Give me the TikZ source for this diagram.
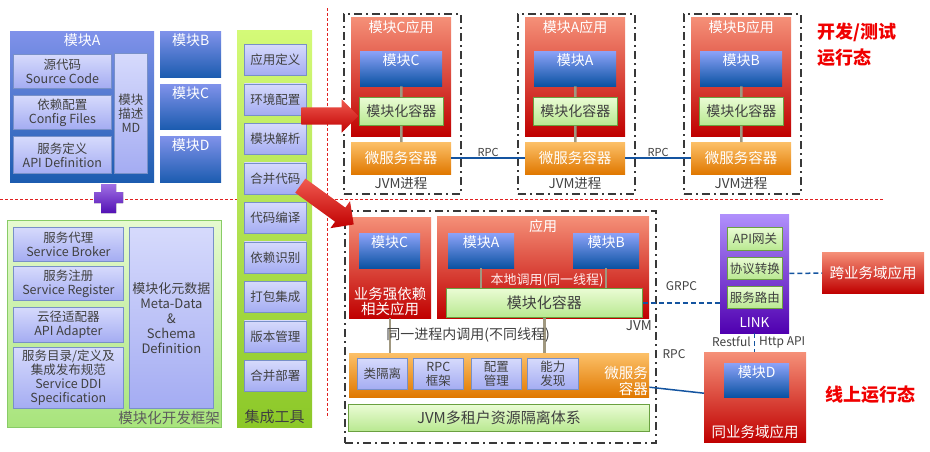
\documentclass[tikz,border=0pt]{standalone}
\usepackage{fontspec}
\setmainfont{Noto Sans CJK SC}
\usetikzlibrary{shapes.arrows,positioning}
\definecolor{modtop}{HTML}{8CA2F8}
\definecolor{modbot}{HTML}{0A52A2}
\definecolor{bigtop}{HTML}{8092EA}
\definecolor{bigbot}{HTML}{1C5CB0}
\definecolor{lavtop}{HTML}{D6DAFC}
\definecolor{lavbot}{HTML}{A4ACF2}
\definecolor{lavline}{HTML}{7890C8}
\definecolor{redtop}{HTML}{F59078}
\definecolor{redbot}{HTML}{C00000}
\definecolor{orgtop}{HTML}{FCC068}
\definecolor{orgbot}{HTML}{E07800}
\definecolor{grntop}{HTML}{EAFCD4}
\definecolor{grnbot}{HTML}{B8E890}
\definecolor{grnline}{HTML}{6AA040}
\definecolor{tooltop}{HTML}{D4FA78}
\definecolor{toolbot}{HTML}{8CC828}
\definecolor{fwtop}{HTML}{E6FAD0}
\definecolor{fwbot}{HTML}{A8E47C}
\definecolor{fwline}{HTML}{88CC66}
\definecolor{purtop}{HTML}{B090FC}
\definecolor{purbot}{HTML}{5000B0}
\definecolor{plustop}{HTML}{A070E4}
\definecolor{plusbot}{HTML}{5210B4}
\definecolor{darktxt}{HTML}{404040}
\definecolor{linkgray}{HTML}{A09880}
\definecolor{netblue}{HTML}{1454A0}
\definecolor{framegray}{HTML}{383838}
\definecolor{headred}{HTML}{F00000}
\definecolor{divred}{HTML}{E02020}
\definecolor{arrtop}{HTML}{F05A50}
\tikzset{
  every node/.style={inner sep=0pt, align=center},
  box/.style={anchor=north west},
  toplabel/.style={label={[anchor=north, yshift=-3pt, text=white, font=\fontsize{14}{16}\selectfont]north:#1}},
  bigmod/.style={box, top color=bigtop, bottom color=bigbot},
  bluebox/.style={box, top color=modtop, bottom color=modbot},
  lav/.style={box, draw=lavline, line width=0.8pt, top color=lavtop, bottom color=lavbot,
    text=darktxt, font=\fontsize{12.5}{14}\selectfont},
  redbox/.style={box, top color=redtop, bottom color=redbot, text=white,
    font=\fontsize{14.5}{16}\selectfont},
  orangebox/.style={box, top color=orgtop, bottom color=orgbot, text=white,
    font=\fontsize{14.5}{16}\selectfont},
  greenbox/.style={box, draw=grnline, line width=0.9pt, top color=grntop, bottom color=grnbot,
    text=darktxt, font=\fontsize{14}{16}\selectfont},
  frame/.style={box, draw=framegray, line width=2pt,
    dash pattern=on 8pt off 4pt on 2pt off 4pt},
  darktext/.style={text=darktxt, font=\fontsize{13.5}{15}\selectfont},
  smalltext/.style={text=darktxt, font=\fontsize{11}{13}\selectfont},
  headtext/.style={anchor=west, text=headred, font=\fontsize{18}{20}\selectfont\bfseries},
  divider/.style={divred, line width=0.8pt, dash pattern=on 3pt off 2pt},
  link/.style={linkgray, line width=2.5pt},
  rpcline/.style={netblue, line width=1.5pt},
  netdash/.style={netblue, line width=1.5pt, dash pattern=on 5pt off 3pt},
  redarrow/.style={single arrow, inner xsep=0pt, inner ysep=8.5pt, single arrow head extend=8pt,
    single arrow tip angle=90, top color=arrtop, bottom color=redbot}
}
\begin{document}
\begin{tikzpicture}[x=1pt,y=-1pt]
\useasboundingbox (0,0) rectangle (930,451);

\draw[divider] (0,199) -- (884,199);
\draw[divider] (327,8) -- (327,418);

% modules
\node (moda) [bigmod, minimum width=144pt, minimum height=151pt, toplabel=模块A] at (10,31) {};
\node (src) [lav, minimum width=98pt, minimum height=34pt] at (13,54) {源代码\\Source Code};
\node (cfg) [lav, minimum width=98pt, minimum height=34pt] at (13,95) {依赖配置\\Config Files};
\node (api) [lav, minimum width=98pt, minimum height=37pt] at (13,136) {服务定义\\API Definition};
\node (md) [lav, minimum width=33pt, minimum height=120pt] at (114,53) {模块\\描述\\MD};
\node (modb) [bigmod, minimum width=61pt, minimum height=46pt, toplabel=模块B] at (160,31) {};
\node (modc) [bigmod, minimum width=61pt, minimum height=45pt, toplabel=模块C] at (160,84) {};
\node (modd) [bigmod, minimum width=61pt, minimum height=46pt, toplabel=模块D] at (160,136) {};
\fill[top color=plustop, bottom color=plusbot] (101,184) -- (116,184) -- (116,192) -- (123,192)
  -- (123,203) -- (116,203) -- (116,213) -- (101,213) -- (101,203) -- (94,203) -- (94,192)
  -- (101,192) -- cycle;

% framework
\node (fw) [box, draw=fwline, line width=1pt, top color=fwtop, bottom color=fwbot,
  minimum width=214pt, minimum height=207pt] at (7,220) {};
\node (broker) [lav, minimum width=110pt, minimum height=34pt] at (13,227) {服务代理\\Service Broker};
\node (register) [lav, minimum width=110pt, minimum height=34pt] at (13,266) {服务注册\\Service Register};
\node (adapter) [lav, minimum width=110pt, minimum height=35pt] at (13,307) {云径适配器\\API Adapter};
\node (ddi) [lav, minimum width=110pt, minimum height=61pt] at (13,347)
  {服务目录/定义及\\集成发布规范\\Service DDI\\Specification};
\node (meta) [lav, minimum width=84pt, minimum height=181pt, font=\fontsize{13}{15}\selectfont]
  at (129,227) {模块化元数据\\Meta-Data\\\&\\Schema\\Definition};
\node (fwtxt) [anchor=east, text=darktxt!85, font=\fontsize{14.5}{16}\selectfont] at (220,418) {模块化开发框架};

% tools
\node (tools) [box, top color=tooltop, bottom color=toolbot, minimum width=75pt, minimum height=397pt] at (237,30) {};
\foreach \t [count=\i from 0] in {应用定义,环境配置,模块解析,合并代码,代码编译,依赖识别,打包集成,版本管理,合并部署}
  \node (tool\i) [lav, minimum width=62pt, minimum height=31pt] at (244,{44+39.5*\i}) {\t};
\node (toolstxt) [darktext, font=\fontsize{15}{17}\selectfont] at (274.5,417) {集成工具};

% dev / test
\foreach \x/\m [count=\i] in {343/C,517/A,683/B} {
  \node (jvm\i) [frame, minimum width=117pt, minimum height=180pt] at (\x,13) {};
  \node (app\i) [redbox, minimum width=100pt, minimum height=119pt, toplabel=模块\m 应用] at (\x+8,17) {};
  \node (mod\i) [bluebox, minimum width=82pt, minimum height=35pt, toplabel=模块\m] at (\x+17,51) {};
  \node (ctr\i) [greenbox, minimum width=84pt, minimum height=28pt] at (\x+16,97) {模块化容器};
  \node (ms\i) [orangebox, minimum width=100pt, minimum height=32pt] at (\x+8,142) {微服务容器};
  \node (jvmtxt\i) [darktext] at (\x+58,183) {JVM进程};
  \draw[link] (mod\i) -- (ctr\i);
  \draw[link] (ctr\i) -- (ms\i);
}
\draw[rpcline] (ms1) -- node[above=1pt, smalltext] {RPC} (ms2);
\draw[rpcline] (ms2) -- node[above=1pt, smalltext] {RPC} (ms3);
\node (devtxt) [headtext] at (817,32) {开发/测试};
\node (devtxt2) [headtext] at (817,58) {运行态};

% online
\node (jvm) [frame, minimum width=311pt, minimum height=232pt] at (344,210) {};
\node (strong) [redbox, minimum width=82pt, minimum height=101pt] at (349,217) {};
\node (strongc) [bluebox, minimum width=61pt, minimum height=35pt, toplabel=模块C] at (359,233) {};
\node (strongtxt) [text=white, font=\fontsize{14.5}{15}\selectfont] at (390,302) {业务强依赖\\相关应用};
\node (app) [redbox, minimum width=212pt, minimum height=102pt, toplabel=应用] at (437,216) {};
\node (appa) [bluebox, minimum width=66pt, minimum height=35pt, toplabel=模块A] at (448,233) {};
\node (appb) [bluebox, minimum width=66pt, minimum height=35pt, toplabel=模块B] at (573,233) {};
\node (container) [greenbox, minimum width=196pt, minimum height=29pt, font=\fontsize{15}{17}\selectfont] at (446,288) {模块化容器};
\draw[link] (appa) -- (appa |- container.north);
\draw[link] (appb) -- (appb |- container.north);
\node (localtxt) [text=red!8!white, font=\fontsize{13}{15}\selectfont] at (547,280) {本地调用(同一线程)};
\node (jvmtxt) [anchor=east, darktext] at (652,326) {JVM};
\node (ms) [orangebox, minimum width=300pt, minimum height=44pt] at (349,353) {};
\node (iso) [lav, minimum width=50pt, minimum height=31pt] at (357,358) {类隔离};
\node (rpcfw) [lav, minimum width=50pt, minimum height=31pt] at (413,358) {RPC\\框架};
\node (conf) [lav, minimum width=50pt, minimum height=31pt] at (471,358) {配置\\管理};
\node (disc) [lav, minimum width=51pt, minimum height=31pt] at (527,358) {能力\\发现};
\node (mstxt) [anchor=east, align=right, text=white, font=\fontsize{14.5}{16}\selectfont] at (648,381) {微服务\\容器};
\draw[link] (strong) -- (strong |- ms.north);
\draw[link] (container) -- (container |- ms.north);
\node (inproc) [darktext, font=\fontsize{14}{16}\selectfont] at (468,335) {同一进程内调用(不同线程)};
\node (tenant) [greenbox, minimum width=301pt, minimum height=27pt, font=\fontsize{15}{17}\selectfont] at (348,404) {JVM多租户资源隔离体系};

\node (linkbox) [box, top color=purtop, bottom color=purbot, minimum width=69pt, minimum height=119pt] at (720,214) {};
\node (gateway) [greenbox, minimum width=55pt, minimum height=23pt, font=\fontsize{12.5}{14}\selectfont] at (727,227) {API网关};
\node (proto) [greenbox, minimum width=55pt, minimum height=22pt, font=\fontsize{12.5}{14}\selectfont] at (727,257) {协议转换};
\node (route) [greenbox, minimum width=55pt, minimum height=22pt, font=\fontsize{12.5}{14}\selectfont] at (727,286) {服务路由};
\node (linktxt) [text=white, font=\fontsize{13.5}{15}\selectfont] at (754.5,323) {LINK};
\node (cross) [redbox, minimum width=102pt, minimum height=41pt] at (822,252) {跨业务域应用};
\node (same) [redbox, minimum width=102pt, minimum height=90pt] at (704,352) {};
\node (samed) [bluebox, minimum width=65pt, minimum height=34pt, toplabel=模块D] at (724,363) {};
\node (sametxt) [text=white, font=\fontsize{14.5}{16}\selectfont] at (755,432) {同业务域应用};

\draw[netdash] (linkbox) -- (cross);
\draw[netdash] (container.east) -- node[above=12pt, smalltext, font=\fontsize{12}{14}\selectfont] {GRPC} (container.east -| linkbox.west);
\draw[netdash] (linkbox) -- (linkbox.south |- same.north);
\node (restful) [anchor=east, smalltext, font=\fontsize{12}{14}\selectfont] at (751,342) {Restful};
\node (httpapi) [anchor=west, smalltext, font=\fontsize{12}{14}\selectfont] at (759,342) {Http API};
\draw[rpcline] ([yshift=-12pt]ms.east) -- ([yshift=4pt]same.west);
\node (rpctxt) [smalltext, font=\fontsize{12}{14}\selectfont] at (674,354) {RPC};
\node (onlinetxt) [headtext] at (825,395) {线上运行态};

\node (devarrow) [redarrow, minimum height=57pt] at (325.5,116) {};
\node (onlinearrow) [redarrow, minimum height=66pt, rotate=-36] at (323.5,202.5) {};
\end{tikzpicture}
\end{document}
